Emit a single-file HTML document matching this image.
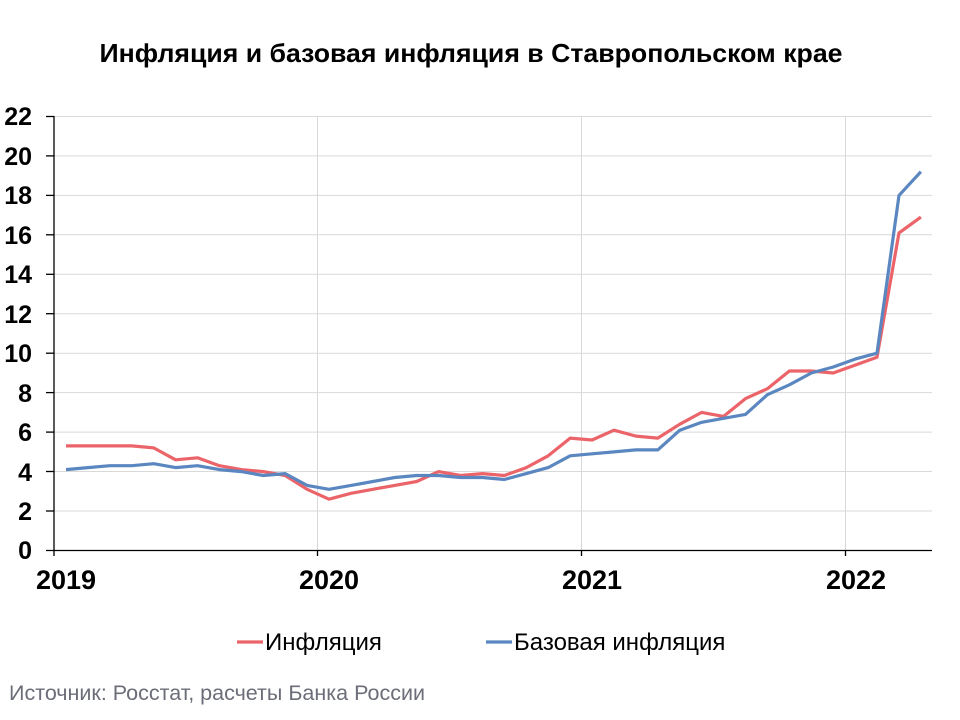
<!DOCTYPE html>
<html><head><meta charset="utf-8"><style>
body{margin:0;background:#fff;}
svg{display:block;font-family:"Liberation Sans",Arial,sans-serif;}
</style></head><body>
<svg width="960" height="720" viewBox="0 0 960 720" xmlns="http://www.w3.org/2000/svg">
<rect width="960" height="720" fill="#fff"/>
<text x="471" y="62" text-anchor="middle" font-size="26" font-weight="bold" textLength="743" lengthAdjust="spacingAndGlyphs">Инфляция и базовая инфляция в Ставропольском крае</text>
<g stroke="#d9d9d9" stroke-width="1">
<line x1="54" x2="932" y1="116.5" y2="116.5"/><line x1="54" x2="932" y1="155.9" y2="155.9"/>
<line x1="54" x2="932" y1="195.4" y2="195.4"/><line x1="54" x2="932" y1="234.8" y2="234.8"/>
<line x1="54" x2="932" y1="274.3" y2="274.3"/><line x1="54" x2="932" y1="313.7" y2="313.7"/>
<line x1="54" x2="932" y1="353.2" y2="353.2"/><line x1="54" x2="932" y1="392.6" y2="392.6"/>
<line x1="54" x2="932" y1="432.1" y2="432.1"/><line x1="54" x2="932" y1="471.5" y2="471.5"/>
<line x1="54" x2="932" y1="511" y2="511"/>
<line x1="317.5" x2="317.5" y1="116" y2="550"/><line x1="581.5" x2="581.5" y1="116" y2="550"/><line x1="845.5" x2="845.5" y1="116" y2="550"/>
</g>
<g stroke="#000" stroke-width="1.3">
<line x1="54" x2="54" y1="116" y2="556"/><line x1="46" x2="932" y1="550.5" y2="550.5"/>
<line x1="317.5" x2="317.5" y1="550" y2="556"/><line x1="581.5" x2="581.5" y1="550" y2="556"/><line x1="845.5" x2="845.5" y1="550" y2="556"/>
<line x1="46" x2="54" y1="116.5" y2="116.5"/><line x1="46" x2="54" y1="155.9" y2="155.9"/><line x1="46" x2="54" y1="195.4" y2="195.4"/>
<line x1="46" x2="54" y1="234.8" y2="234.8"/><line x1="46" x2="54" y1="274.3" y2="274.3"/><line x1="46" x2="54" y1="313.7" y2="313.7"/>
<line x1="46" x2="54" y1="353.2" y2="353.2"/><line x1="46" x2="54" y1="392.6" y2="392.6"/><line x1="46" x2="54" y1="432.1" y2="432.1"/>
<line x1="46" x2="54" y1="471.5" y2="471.5"/><line x1="46" x2="54" y1="511" y2="511"/>
</g>
<g font-size="25" font-weight="bold" text-anchor="end">
<text x="32" y="125">22</text><text x="32" y="165">20</text><text x="32" y="204">18</text><text x="32" y="244">16</text>
<text x="32" y="283">14</text><text x="32" y="323">12</text><text x="32" y="362">10</text><text x="32" y="402">8</text>
<text x="32" y="441">6</text><text x="32" y="481">4</text><text x="32" y="520">2</text><text x="32" y="559">0</text>
</g>
<g font-size="27" font-weight="bold" text-anchor="middle">
<text x="66" y="589">2019</text><text x="329" y="589">2020</text><text x="592" y="589">2021</text><text x="856" y="589">2022</text>
</g>
<g id="lines" fill="none" stroke-width="3.2" stroke-linejoin="round"></g>
<line x1="237" x2="263" y1="642" y2="642" stroke="#eb6469" stroke-width="3.2"/>
<text x="265" y="650" font-size="24">Инфляция</text>
<line x1="486" x2="512" y1="642" y2="642" stroke="#5b87c1" stroke-width="3.2"/>
<text x="514" y="650" font-size="24">Базовая инфляция</text>
<text x="9" y="700" font-size="21" fill="#6b6e78" textLength="416" lengthAdjust="spacingAndGlyphs">Источник: Росстат, расчеты Банка России</text>
</svg>
<script>
var red=[5.3,5.3,5.3,5.3,5.2,4.6,4.7,4.3,4.1,4.0,3.8,3.1,2.6,2.9,3.1,3.3,3.5,4.0,3.8,3.9,3.8,4.2,4.8,5.7,5.6,6.1,5.8,5.7,6.4,7.0,6.8,7.7,8.2,9.1,9.1,9.0,9.4,9.8,16.1,16.9];
var blue=[4.1,4.2,4.3,4.3,4.4,4.2,4.3,4.1,4.0,3.8,3.9,3.3,3.1,3.3,3.5,3.7,3.8,3.8,3.7,3.7,3.6,3.9,4.2,4.8,4.9,5.0,5.1,5.1,6.1,6.5,6.7,6.9,7.9,8.4,9.0,9.3,9.7,10.0,18.0,19.2];
function p(d,c){var s=d.map(function(v,i){return (66+i*21.92).toFixed(1)+','+(550.5-v*19.727).toFixed(1)}).join(' ');
var e=document.createElementNS('http://www.w3.org/2000/svg','polyline');e.setAttribute('points',s);e.setAttribute('stroke',c);document.getElementById('lines').appendChild(e);}
p(red,'#eb6469');p(blue,'#5b87c1');
</script>
</body></html>
